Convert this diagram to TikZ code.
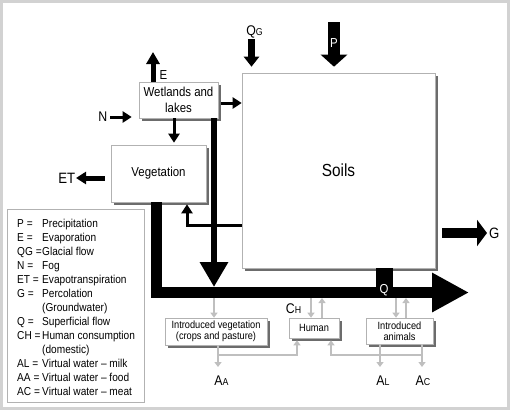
\documentclass[tikz,border=0pt]{standalone}
\usepackage{fontspec}
\setmainfont{Liberation Sans}[FakeStretch=0.88]
\usetikzlibrary{arrows.meta}
\usetikzlibrary{shadows}
\usetikzlibrary{calc}

\tikzset{
  box/.style={draw=gray!60, line width=0.6pt, fill=white, inner sep=0pt, align=center,
    drop shadow={shadow xshift=2.5pt, shadow yshift=-2.5pt, fill=gray!85!black, opacity=1}},
  lbl/.style={inner sep=0pt, font=\fontsize{14}{14}\selectfont},
  marrow/.style={line width=3pt, line join=miter, -{Triangle[length=9pt,width=11pt]}},
  garrow/.style={draw=gray!50, line width=1.6pt, -{Triangle[length=5pt,width=7pt]}},
}
\newcommand{\smallcap}[1]{{\fontsize{10}{10}\selectfont #1}}

\begin{document}
\begin{tikzpicture}[x=1pt, y=-1pt]
    \useasboundingbox (0,0) rectangle (510,410);
    \draw[gray!35, line width=3pt] (1.5,1.5) rectangle (508.5,408.5);

    % boxes
    \node[box, minimum width=79pt, minimum height=36pt, font=\fontsize{13}{16}\selectfont] (wet) at (178.5,100) {Wetlands and\\lakes};
    \node[box, minimum width=95pt, minimum height=57pt, font=\fontsize{13}{16}\selectfont] (veg) at (158.5,173.5) {Vegetation};
    \node[box, minimum width=193pt, minimum height=195pt, font=\fontsize{17.5}{20}\selectfont] (soil) at (338.5,170.5) {Soils};
    \node[box, minimum width=102pt, minimum height=27pt, font=\fontsize{10.5}{11.5}\selectfont] (iveg) at (216,331.5) {Introduced vegetation\\(crops and pasture)};
    \node[box, minimum width=50pt, minimum height=20pt, font=\fontsize{10.5}{11.5}\selectfont] (hum) at (314,328) {Human};
    \node[box, minimum width=67pt, minimum height=26pt, font=\fontsize{10.5}{11.5}\selectfont] (ianim) at (399.5,331) {Introduced\\animals};

    % legend
    \node[draw=gray!60, line width=0.6pt, minimum width=137pt, minimum height=193pt, inner sep=0pt] (legend) at (75.5,305.5) {};
    \node[anchor=north west, inner sep=0pt, font=\fontsize{11.5}{14}\selectfont] (legtext) at (17,217) {%
      \begin{tabular}{@{}p{25pt}@{}l@{}}
        P = & Precipitation\\
        E = & Evaporation\\
        QG =& Glacial flow\\
        N = & Fog\\
        ET = & Evapotranspiration\\
        G = & Percolation\\
            & (Groundwater)\\
        Q = & Superficial flow\\
        CH = & Human consumption\\
            & (domestic)\\
        AL = & Virtual water – milk\\
        AA = & Virtual water – food\\
        AC = & Virtual water – meat
      \end{tabular}};

    % wetlands and vegetation
    \coordinate (Etip) at (153,52);
    \draw[line width=5pt, -{Triangle[length=12pt,width=13pt]}] (Etip |- wet.north) -- (Etip);
    \node[lbl, font=\fontsize{13}{13}\selectfont] (Elbl) at (163.5,75) {E};
    \coordinate (Nstart) at (110,117);
    \draw[marrow, shorten >=7pt] (Nstart) -- (Nstart -| wet.west);
    \node[lbl, anchor=east] (Nlbl) at (107.5,117) {N};
    \draw[marrow, shorten >=2pt] ([xshift=-4.5pt]wet.south) -- ([xshift=-4.5pt]wet.south |- veg.north);
    \draw[marrow, shorten <=2.5pt] ([yshift=-3pt]wet.east) -- ([yshift=-3pt]wet.east -| soil.west);
    \coordinate (ETtip) at (76,178);
    \draw[line width=5pt, -{Triangle[length=10pt,width=12pt]}, shorten <=6pt] (ETtip -| veg.west) -- (ETtip);
    \node[lbl, anchor=east, font=\fontsize{15}{15}\selectfont] (ETlbl) at ([xshift=-0.5pt]ETtip) {ET};

    % soils inputs and outputs
    \coordinate (Ptop) at (334,22);
    \draw[line width=12pt, -{Triangle[length=12pt,width=26pt]}, shorten >=6pt] (Ptop) -- (Ptop |- soil.north);
    \node[lbl, text=white, font=\fontsize{13}{13}\selectfont] (Plbl) at (334,43) {P};
    \coordinate (QGtop) at (251.5,39);
    \draw[line width=7pt, -{Triangle[length=10pt,width=15pt]}, shorten >=6pt] (QGtop) -- (QGtop |- soil.north);
    \node[lbl] (QGlbl) at (254.5,32) {Q\smallcap{G}};
    \coordinate (Gtip) at (487,233);
    \draw[line width=10pt, -{Triangle[length=10pt,width=26pt]}, shorten <=7pt] (Gtip -| soil.east) -- (Gtip);
    \node[lbl, anchor=west, font=\fontsize{15}{15}\selectfont] (Glbl) at (489,233) {G};

    \coordinate (Vtip) at (214,287);
    \draw[line width=6.5pt, -{Triangle[length=25pt,width=27pt]}] (Vtip |- wet.south) -- (Vtip);
    \coordinate (Rturn) at (187,225);
    \draw[marrow, shorten >=2pt] (Rturn -| soil.west) -- (Rturn) -- (Rturn |- veg.south);

    % superficial flow
    \coordinate (Lturn) at (156.5,292.5);
    \coordinate (Qtip) at (469,292.5);
    \draw[line width=11pt, line join=miter, -{Triangle[length=37pt,width=37pt]}] (Lturn |- veg.south) -- (Lturn) -- (Qtip);
    \coordinate (Qblk) at (384.5,292.5);
    \draw[line width=17pt] (Qblk |- soil.south) -- (Qblk);
    \node[lbl, text=white, font=\fontsize{13}{13}\selectfont] (Qlbl) at (384,290) {Q};

    % virtual water
    \coordinate (barlow) at (0,298);
    \coordinate (split) at (0,355);
    \coordinate (Arow) at (0,367);
    \draw[garrow] ([xshift=-2pt]iveg.north |- barlow) -- ([xshift=-2pt]iveg.north);
    \draw[garrow] ([xshift=-3pt]hum.north |- barlow) -- ([xshift=-3pt]hum.north);
    \draw[garrow] ([xshift=8pt]hum.north) -- ([xshift=8pt]hum.north |- barlow);
    \draw[garrow] ([xshift=-3.5pt]ianim.north |- barlow) -- ([xshift=-3.5pt]ianim.north);
    \draw[garrow] ([xshift=6.5pt]ianim.north) -- ([xshift=6.5pt]ianim.north |- barlow);
    \node[lbl] (CHlbl) at (293.5,309) {C\smallcap{H}};

    \draw[garrow] ([xshift=2pt]iveg.south) -- ([xshift=2pt]iveg.south |- Arow);
    \draw[garrow, shorten >=2pt] ([xshift=2pt]iveg.south |- split) -| ([xshift=-17pt]hum.south);
    \draw[garrow] ([xshift=-19.5pt]ianim.south) -- ([xshift=-19.5pt]ianim.south |- Arow);
    \draw[garrow] ([xshift=22.5pt]ianim.south) -- ([xshift=22.5pt]ianim.south |- Arow);
    \draw[garrow, shorten >=2pt] ([xshift=22.5pt]ianim.south |- split) -| ([xshift=17pt]hum.south);
    \node[lbl] (AAlbl) at (221.5,381) {A\smallcap{A}};
    \node[lbl] (ALlbl) at (383,381) {A\smallcap{L}};
    \node[lbl] (AClbl) at (423,381) {A\smallcap{C}};
\end{tikzpicture}
\end{document}
